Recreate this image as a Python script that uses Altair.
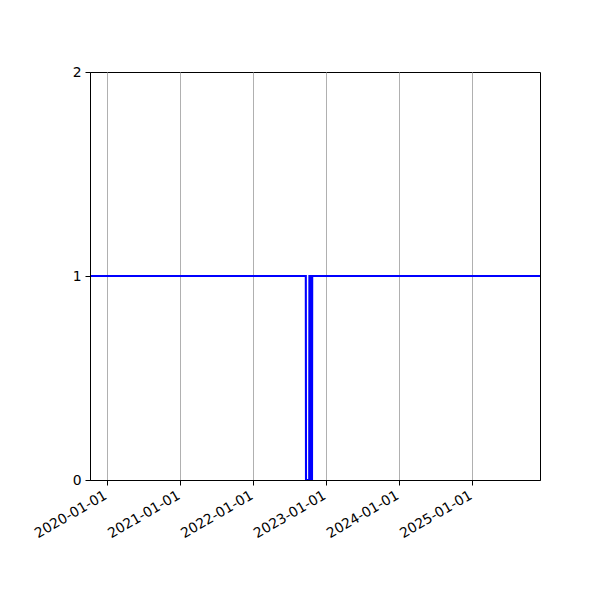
import altair as alt
import pandas as pd

# Series (step-like signal)
dates = ["2019-10-08", "2022-09-22", "2022-09-23", "2022-10-09", "2022-10-10",
         "2022-10-17", "2022-10-18", "2022-10-23", "2022-10-24", "2025-12-07"]
values = [1, 1, 0, 0, 1, 1, 0, 0, 1, 1]

tick_dates = ["2020-01-01", "2021-01-01", "2022-01-01", "2023-01-01", "2024-01-01", "2025-01-01"]
y_ticks = [0, 1, 2]
x_domain = ["2019-10-08", "2025-12-07"]

df = pd.DataFrame({"date": pd.to_datetime(dates), "value": values, "order": list(range(len(dates)))})
grid_df = pd.DataFrame({"date": pd.to_datetime(tick_dates)})

W, H = 450, 408

x_scale = alt.Scale(type="utc", domain=[d + "T00:00:00Z" for d in x_domain])
tick_vals = [d + "T00:00:00Z" for d in tick_dates]

# grid-only axis, drawn beneath the line
grid = alt.Chart(grid_df).mark_rule(opacity=0).encode(
    x=alt.X("date:T", scale=x_scale,
            axis=alt.Axis(values=tick_vals, title=None, orient="top",
                          grid=True, gridColor="#b0b0b0", gridWidth=1,
                          labels=False, ticks=False, domain=False, zindex=0)),
)

line = alt.Chart(df).mark_line(color="blue", strokeWidth=2.1, clip=True).encode(
    x=alt.X("date:T", scale=x_scale,
            axis=alt.Axis(values=tick_vals, title=None, orient="bottom",
                          labelExpr="utcFormat(datum.value, '%Y-%m-%d')",
                          grid=False,
                          labelAngle=330, labelAlign="right", labelBaseline="top",
                          labelFontSize=13.9, labelFont="DejaVu Sans", labelColor="black",
                          domainColor="black", tickColor="black", tickSize=5, labelPadding=3,
                          labelOffset=-5,
                          labelOverlap=False, labelFlush=False, zindex=1)),
    y=alt.Y("value:Q", scale=alt.Scale(domain=[0, 2], nice=False),
            axis=alt.Axis(values=y_ticks, title=None, grid=False,
                          labelExpr="format(datum.value, 'd')",
                          labelFontSize=13.9, labelFont="DejaVu Sans", labelColor="black",
                          domainColor="black", tickColor="black", tickSize=5, labelPadding=4,
                          labelOverlap=False, labelFlush=False, zindex=1)),
    order="order:Q",
)

chart = alt.layer(grid, line).resolve_axis(x="independent").properties(
    width=W, height=H,
    autosize=alt.AutoSizeParams(type="none"),
    padding={"left": 82, "top": 64, "right": 52, "bottom": 112},
).configure(background="white").configure_view(stroke="black", strokeWidth=1)

chart.save("out.html", embed_options={"renderer": "svg", "actions": False})
